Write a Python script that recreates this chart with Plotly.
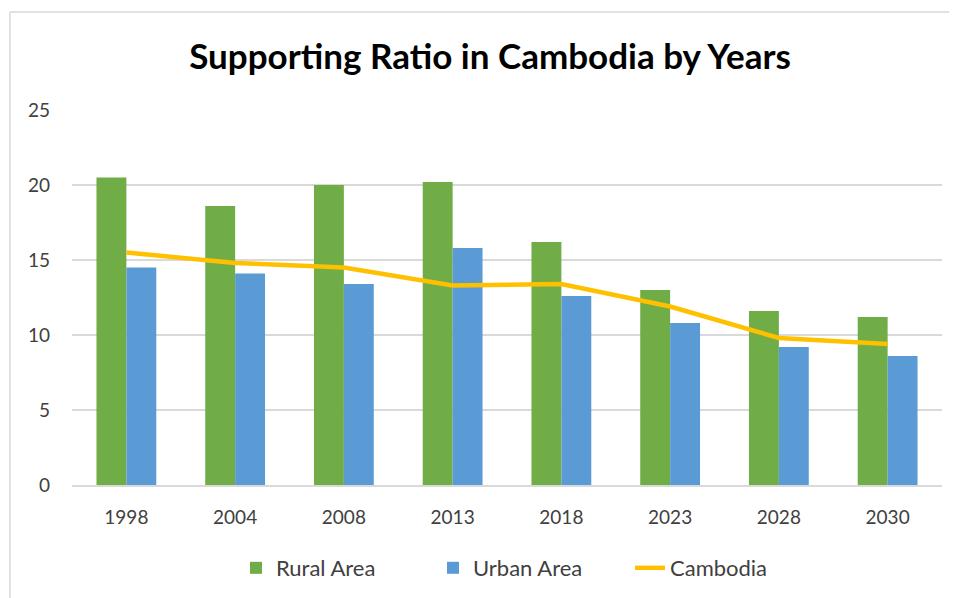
import plotly.graph_objects as go

years = ["1998", "2004", "2008", "2013", "2018", "2023", "2028", "2030"]
rural = [20.5, 18.6, 20.0, 20.2, 16.2, 13.0, 11.6, 11.2]
urban = [14.5, 14.1, 13.4, 15.8, 12.6, 10.8, 9.2, 8.6]
cambodia = [15.5, 14.8, 14.5, 13.3, 13.4, 11.9, 9.8, 9.4]

# page has an 8px body margin; work in reference pixel coords, shifted by OFF
OFF = 8
W, H = 957 - OFF, 598 - OFF
L, R, T, B = 72 - OFF, 942 - OFF, 110 - OFF, 485 - OFF

def px_x(p):
    return (p - OFF - L) / (R - L)

def px_y(p):
    return (B - (p - OFF)) / (B - T)

FONT = "Lato"
fig = go.Figure()
fig.add_trace(go.Bar(x=years, y=rural, name="Rural Area", marker_color="#70AD47",
                     marker_line_width=0))
fig.add_trace(go.Bar(x=years, y=urban, name="Urban Area", marker_color="#5B9BD5",
                     marker_line_width=0))
fig.add_trace(go.Scatter(x=years, y=cambodia, name="Cambodia", mode="lines",
                         line=dict(color="#FFC000", width=4.5)))

fig.update_layout(
    width=W, height=H,
    margin=dict(l=L, r=W - R, t=T, b=H - B, autoexpand=False),
    paper_bgcolor="white", plot_bgcolor="white",
    barmode="group", bargap=0.45, bargroupgap=0,
    title=dict(text="<b>Supporting Ratio in Cambodia by Years</b>",
               x=(490 - OFF) / W, xref="container", xanchor="center",
               y=1 - (57 - OFF) / H, yref="container", yanchor="middle",
               font=dict(family=FONT, size=35, color="black")),
    font=dict(family=FONT, size=19, color="#404040"),
    legend=dict(orientation="h", x=px_x(236), xanchor="left",
                y=px_y(568), yanchor="middle", font=dict(size=22, color="#404040"),
                entrywidth=152, entrywidthmode="pixels", traceorder="normal"),
    xaxis=dict(showline=True, linecolor="#D9D9D9", linewidth=1.5, ticks="",
               tickfont=dict(size=19, color="#404040"), fixedrange=True,
               ticklabelstandoff=14),
    yaxis=dict(range=[0, 25], dtick=5, showgrid=True, gridcolor="#D9D9D9",
               gridwidth=1.5, zeroline=False, showline=False, ticks="",
               tickfont=dict(size=19, color="#404040"), ticklabelstandoff=21),
    shapes=[
        dict(type="line", xref="paper", yref="paper", x0=px_x(10), x1=px_x(960),
             y0=px_y(12), y1=px_y(12), line=dict(color="#D9D9D9", width=1.5)),
        dict(type="line", xref="paper", yref="paper", x0=px_x(10), x1=px_x(10),
             y0=px_y(12), y1=px_y(600), line=dict(color="#D9D9D9", width=1.5)),
    ],
)
fig.write_html("out.html")
